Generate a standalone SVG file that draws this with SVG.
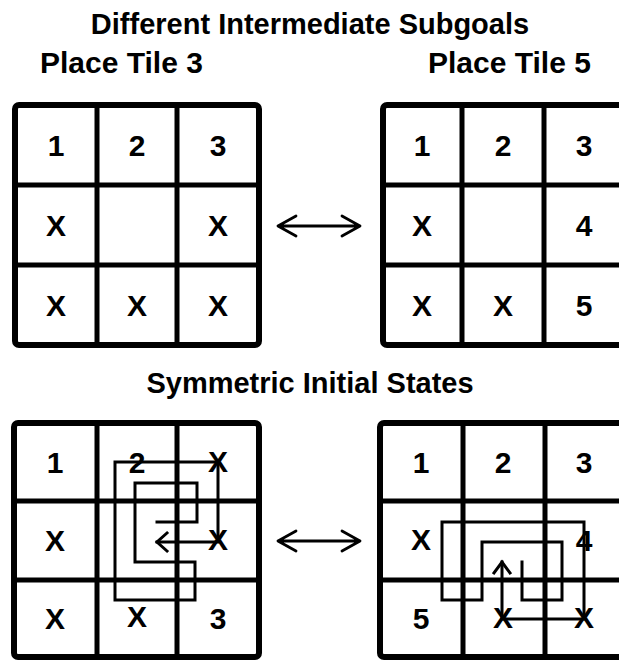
<svg xmlns="http://www.w3.org/2000/svg" width="619" height="660" viewBox="0 0 619 660">
<style>
.t{font-family:"Liberation Sans",Arial,Helvetica,sans-serif;font-weight:bold;fill:#000}
.title{font-size:29px}
.sub{font-size:30px}
.c{font-size:30px;text-anchor:middle}
.frame{fill:none;stroke:#000;stroke-width:6}
.grid{fill:none;stroke:#000;stroke-width:5}
.trace{fill:none;stroke:#000;stroke-width:3;stroke-linejoin:miter;stroke-linecap:square}
.conn{fill:none;stroke:#000;stroke-width:2.8;stroke-linecap:round;stroke-linejoin:round}
</style>
<rect width="619" height="660" fill="#fff"/>
<g id="titles">
<text class="t title" x="310" y="34" text-anchor="middle">Different Intermediate Subgoals</text>
<text class="t sub" x="40" y="73">Place Tile 3</text>
<text class="t sub" x="428" y="73">Place Tile 5</text>
<text class="t title" x="310" y="393" text-anchor="middle">Symmetric Initial States</text>
</g>
<g id="grid-top-left">
<rect class="frame" x="15" y="105" width="244" height="240" rx="4"/>
<path class="grid" d="M97,105V345M177,105V345M15,185H259M15,265H259"/>
<text class="t c" x="56" y="156">1</text><text class="t c" x="137" y="156">2</text><text class="t c" x="218" y="156">3</text>
<text class="t c" x="56" y="236">X</text><text class="t c" x="218" y="236">X</text>
<text class="t c" x="56" y="316">X</text><text class="t c" x="137" y="316">X</text><text class="t c" x="218" y="316">X</text>
</g>
<g id="grid-top-right">
<rect class="frame" x="383" y="105" width="244" height="240" rx="4"/>
<path class="grid" d="M462,105V345M544,105V345M383,185H627M383,265H627"/>
<text class="t c" x="422" y="156">1</text><text class="t c" x="503" y="156">2</text><text class="t c" x="584" y="156">3</text>
<text class="t c" x="422" y="236">X</text><text class="t c" x="584" y="236">4</text>
<text class="t c" x="422" y="316">X</text><text class="t c" x="503" y="316">X</text><text class="t c" x="584" y="316">5</text>
</g>
<g id="grid-bottom-left">
<rect class="frame" x="14" y="423" width="245" height="234" rx="4"/>
<path class="grid" d="M97,423V657M177,423V657M14,501H259M14,580H259"/>
<text class="t c" x="55" y="473">1</text><text class="t c" x="137" y="473">2</text><text class="t c" x="218" y="472">X</text>
<text class="t c" x="55" y="551">X</text><text class="t c" x="218" y="550">X</text>
<text class="t c" x="55" y="629">X</text><text class="t c" x="137" y="627">X</text><text class="t c" x="218" y="629">3</text>
<polyline class="trace" points="157,522 197,522 197,483 135,483 135,562 195,562 195,600 115,600 115,462 218,462 218,542 157,542"/>
<polyline class="trace" points="167,533 157,542 167,551" stroke-linecap="butt"/>
</g>
<g id="grid-bottom-right">
<rect class="frame" x="380" y="423" width="247" height="234" rx="4"/>
<path class="grid" d="M463,423V657M545,423V657M380,501H627M380,580H627"/>
<text class="t c" x="421" y="473">1</text><text class="t c" x="503" y="473">2</text><text class="t c" x="584" y="473">3</text>
<text class="t c" x="421" y="550">X</text><text class="t c" x="584" y="551">4</text>
<text class="t c" x="421" y="629">5</text><text class="t c" x="503" y="628">X</text><text class="t c" x="584" y="628">X</text>
<polyline class="trace" points="522,562 522,600 562,600 562,542 482,542 482,600 442,600 442,522 584,522 584,619 502,619 502,562"/>
<polyline class="trace" points="494,573 502,562 510,573" stroke-linecap="butt"/>
</g>
<g id="connectors">
<path class="conn" d="M278,226H360M296,216L278,226L296,236M342,216L360,226L342,236"/>
<path class="conn" d="M278,541H360M296,531L278,541L296,551M342,531L360,541L342,551"/>
</g>
</svg>
